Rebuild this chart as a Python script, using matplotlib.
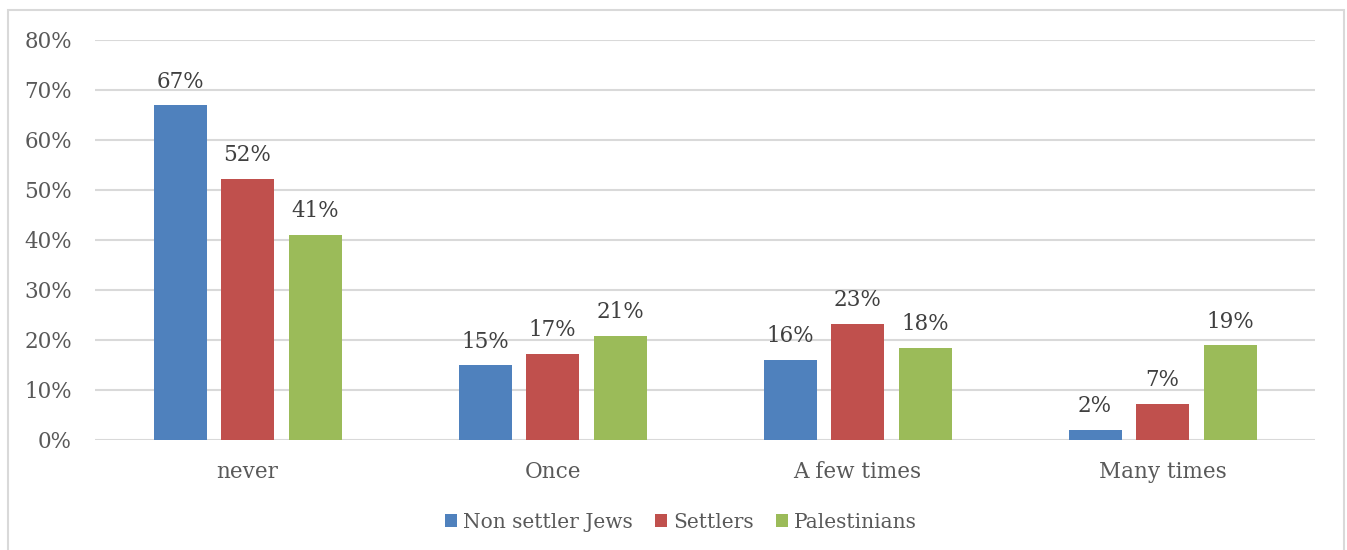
import matplotlib
matplotlib.use("Agg")
import matplotlib.pyplot as plt
import numpy as np
from matplotlib.patches import Rectangle

categories = ["never", "Once", "A few times", "Many times"]
series_names = ["Non settler Jews", "Settlers", "Palestinians"]
non_settler = [67, 15, 16, 2]
settlers = [52.3, 17.2, 23.2, 7.2]
palestinians = [41.1, 20.8, 18.4, 19.0]
value_labels = [["67%", "15%", "16%", "2%"],
                ["52%", "17%", "23%", "7%"],
                ["41%", "21%", "18%", "19%"]]
yticks = [0, 10, 20, 30, 40, 50, 60, 70, 80]
colors = ["#4F81BD", "#C0504D", "#9BBB59"]

plt.rcParams['font.family'] = ['DejaVu Serif']
text_color = "#595959"
fs = 15.5

fig = plt.figure(figsize=(13.47, 5.5), dpi=100)
ax = fig.add_axes([95/1347, 1-440/550, 1220/1347, 400/550])

x = np.arange(len(categories))
width = 53/305
pitch = 67.5/305
data = [non_settler, settlers, palestinians]
for i, (vals, col, name) in enumerate(zip(data, colors, series_names)):
    pos = x + (i - 1) * pitch
    bars = ax.bar(pos, vals, width=width, color=col, label=name, zorder=3)
    for b, lab in zip(bars, value_labels[i]):
        ax.annotate(lab, (b.get_x() + b.get_width()/2, b.get_height()),
                    xytext=(0, 9), textcoords="offset points",
                    ha="center", va="bottom", fontsize=fs, color="#404040")

ax.set_xlim(-0.5, len(categories) - 0.5)
ax.set_ylim(0, 80)
ax.set_yticks(yticks)
ax.set_yticklabels([f"{t}%" for t in yticks], fontsize=fs, color=text_color)
ax.set_xticks(x)
ax.set_xticklabels(categories, fontsize=fs, color=text_color)
ax.tick_params(axis='both', length=0)
ax.tick_params(axis='y', pad=16.5)
ax.tick_params(axis='x', pad=15)
ax.grid(axis='y', color="#D9D9D9", linewidth=1.5, zorder=0)
for s in ax.spines.values():
    s.set_visible(False)

leg = fig.legend(loc="center", bbox_to_anchor=(681/1347, 1-522/550), ncol=3,
                 frameon=False, fontsize=14.5, handlelength=0.6, handleheight=0.6,
                 handletextpad=0.3, columnspacing=1.1, labelcolor=text_color)

fig.patches.append(Rectangle((8/1347, -0.05), (1344-8)/1347, (1-10/550) + 0.05,
                             transform=fig.transFigure, fill=False,
                             edgecolor="#D9D9D9", linewidth=1.5))

fig.savefig("out.png", dpi=100)
